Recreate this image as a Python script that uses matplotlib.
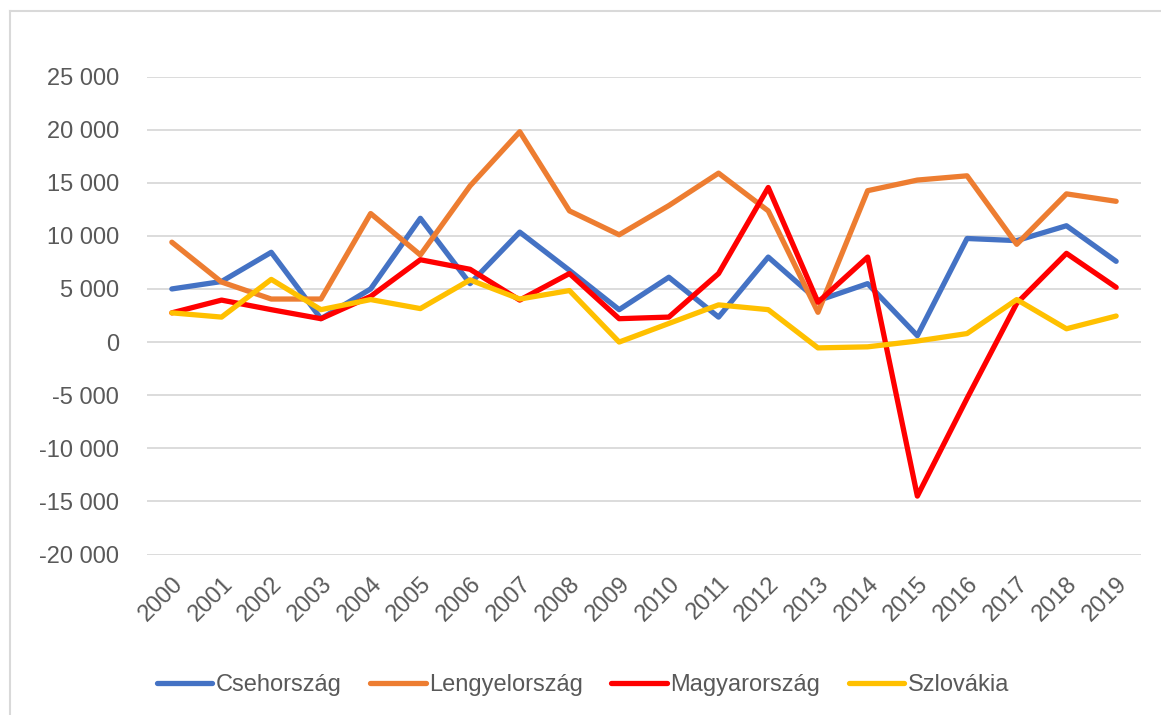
import matplotlib
matplotlib.use('Agg')
import matplotlib.pyplot as plt
from matplotlib.ticker import FuncFormatter, MultipleLocator
from matplotlib.lines import Line2D

# Data
years = [str(y) for y in range(2000, 2020)]
cseh = [5000, 5700, 8450, 2200, 5000, 11650, 5500, 10350, 6750, 3050,
        6100, 2350, 8000, 3900, 5500, 600, 9750, 9550, 10950, 7600]
lengyel = [9400, 5650, 4050, 4050, 12100, 8200, 14700, 19800, 12350, 10100,
           12850, 15900, 12350, 2800, 14250, 15250, 15650, 9200, 13950, 13250]
magyar = [2750, 3950, 3050, 2200, 4300, 7750, 6850, 3950, 6450, 2200,
          2350, 6450, 14550, 3750, 8000, -14500, -5300, 3650, 8350, 5150]
szlovak = [2750, 2350, 5900, 3050, 4000, 3150, 5850, 4050, 4850, 0,
           1750, 3500, 3050, -550, -450, 100, 800, 4000, 1250, 2450]

series_names = ['Csehország', 'Lengyelország', 'Magyarország', 'Szlovákia']
series_colors = ['#4472C4', '#ED7D31', '#FF0000', '#FFC000']

plt.rcParams['font.family'] = ['Liberation Sans', 'DejaVu Sans']
text_color = '#595959'
grid_color = '#D9D9D9'

fig = plt.figure(figsize=(11.61, 7.15), dpi=100)
ax = fig.add_axes([147 / 1161, (715 - 554.5) / 715, 994 / 1161, 478 / 715])

x = list(range(len(years)))
for vals, name, col in zip([cseh, lengyel, magyar, szlovak], series_names, series_colors):
    ax.plot(x, vals, color=col, lw=3.8, label=name,
            solid_capstyle='round', solid_joinstyle='round')

ax.set_xlim(-0.5, len(years) - 0.5)
ax.set_ylim(-20000, 25000)
ax.yaxis.set_major_locator(MultipleLocator(5000))
ax.yaxis.set_major_formatter(FuncFormatter(lambda v, p: f'{int(v):,}'.replace(',', ' ')))
ax.set_xticks(x)
ax.set_xticklabels(years, rotation=45, ha='right', rotation_mode='anchor')

ax.grid(axis='y', color=grid_color, lw=1.3)
ax.set_axisbelow(True)
for s in ax.spines.values():
    s.set_visible(False)
ax.tick_params(axis='both', length=0, labelsize=17, labelcolor=text_color)
ax.tick_params(axis='y', pad=20)
ax.tick_params(axis='x', pad=13)

# legend below the plot
handles = [Line2D([], [], color=c, lw=3.8, solid_capstyle='round') for c in series_colors]
fig.legend(handles, series_names, loc='center', bbox_to_anchor=(583 / 1161, 30 / 715),
           ncol=4, frameon=False, fontsize=17, labelcolor=text_color,
           handlelength=2.35, handletextpad=0.15, columnspacing=1.2)

# outer chart border (left and top visible)
fig.add_artist(Line2D([9.5 / 1161, 9.5 / 1161], [0, 1 - 10.5 / 715], color=grid_color, lw=1.5))
fig.add_artist(Line2D([9.5 / 1161, 1], [1 - 10.5 / 715, 1 - 10.5 / 715], color=grid_color, lw=1.5))

fig.savefig('out.png', dpi=100)
